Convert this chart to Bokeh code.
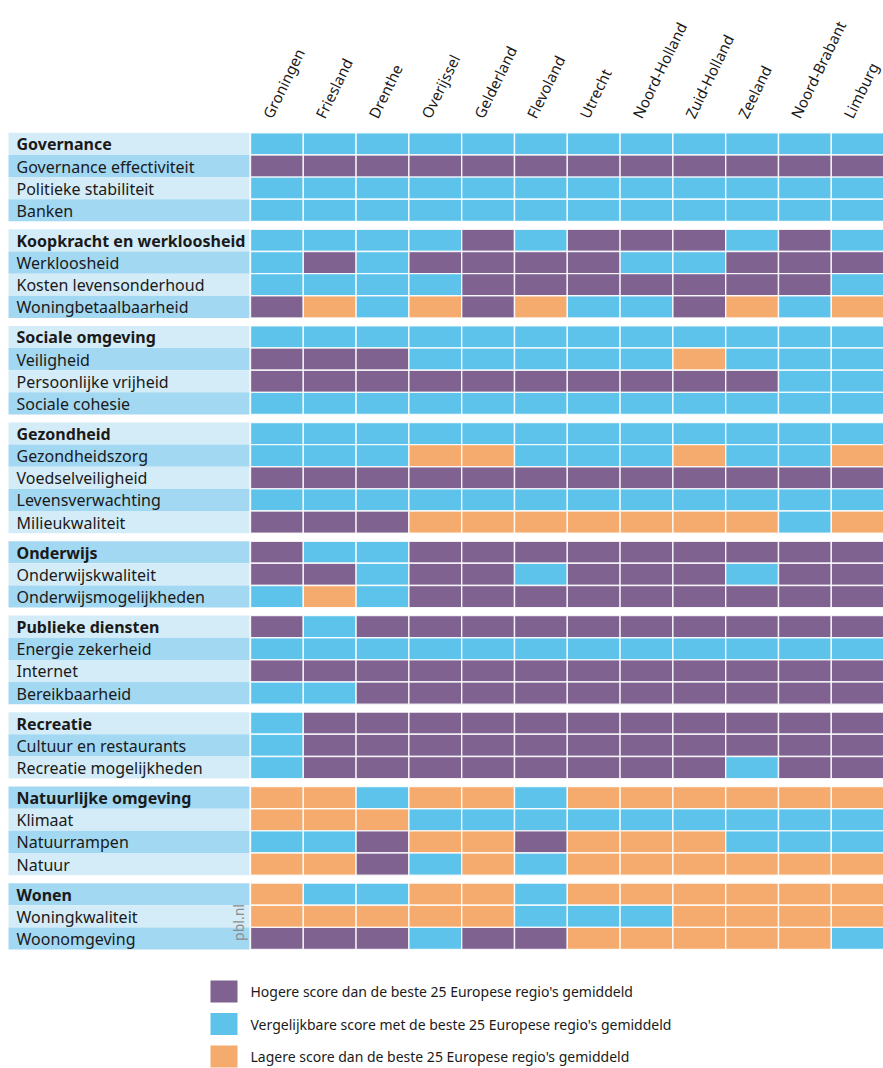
import math
from bokeh.plotting import figure
from bokeh.models import Range1d, ColumnDataSource
from bokeh.embed import file_html
from bokeh.resources import INLINE
from bokeh.core.properties import value

# ---------------- data ----------------
regions = ["Groningen", "Friesland", "Drenthe", "Overijssel", "Gelderland", "Flevoland",
           "Utrecht", "Noord-Holland", "Zuid-Holland", "Zeeland", "Noord-Brabant", "Limburg"]

groups = ["Governance", "Koopkracht en werkloosheid", "Sociale omgeving", "Gezondheid",
          "Onderwijs", "Publieke diensten", "Recreatie", "Natuurlijke omgeving", "Wonen"]

group_items = [
    ["Governance effectiviteit", "Politieke stabiliteit", "Banken"],
    ["Werkloosheid", "Kosten levensonderhoud", "Woningbetaalbaarheid"],
    ["Veiligheid", "Persoonlijke vrijheid", "Sociale cohesie"],
    ["Gezondheidszorg", "Voedselveiligheid", "Levensverwachting", "Milieukwaliteit"],
    ["Onderwijskwaliteit", "Onderwijsmogelijkheden"],
    ["Energie zekerheid", "Internet", "Bereikbaarheid"],
    ["Cultuur en restaurants", "Recreatie mogelijkheden"],
    ["Klimaat", "Natuurrampen", "Natuur"],
    ["Woningkwaliteit", "Woonomgeving"],
]

# H = hoger, V = vergelijkbaar, L = lager  (one string per row, group header first)
status = [
    "VVVVVVVVVVVV", "HHHHHHHHHHHH", "VVVVVVVVVVVV", "VVVVVVVVVVVV",
    "VVVVHVHHHVHV", "VHVHHHHVVHHH", "VVVVHHHHHHHV", "HLVLHLVVHLVL",
    "VVVVVVVVVVVV", "HHHVVVVVLVVV", "HHHHHHHHHHVV", "VVVVVVVVVVVV",
    "VVVVVVVVVVVV", "VVVLLVVVLVVL", "HHHHHHHHHHHH", "VVVVVVVVVVVV", "HHHLLLLLLLVL",
    "HVVHHHHHHHHH", "HHVHHVHHHVHH", "VLVHHHHHHHHH",
    "HVHHHHHHHHHH", "VVVVVVVVVVVV", "HHHHHHHHHHHH", "VVHHHHHHHHHH",
    "VHHHHHHHHHHH", "VHHHHHHHHHHH", "VHHHHHHHHVHH",
    "LLVLLVLLLLLL", "LLLVVVVVVVVV", "VVHLLHLLLVVV", "LLHVLVLLLLLL",
    "LVVLLVLLLLLL", "LLLLLVVVLLLL", "HHHVHHLLLLLV",
]

codes = ["H", "V", "L"]
legend_labels = ["Hogere score dan de beste 25 Europese regio's gemiddeld",
                 "Vergelijkbare score met de beste 25 Europese regio's gemiddeld",
                 "Lagere score dan de beste 25 Europese regio's gemiddeld"]

# ---------------- style ----------------
colors = {"H": "#7f6290", "V": "#5ec3eb", "L": "#f5ab6e"}
bg_light, bg_mid = "#d4ecf8", "#a3d8f2"
FONT = "Noto Sans"
TXT = "#1a1a1a"

W, H = 883, 1068
label_x0, label_x1 = 8, 249
cell_x0, cw = 250, 52.8
y0, rh, gap = 132.3, 22.14, 8.0

p = figure(width=W, height=H, x_range=Range1d(0, W), y_range=Range1d(H, 0),
           output_backend="svg", toolbar_location=None, min_border=0)
p.axis.visible = False
p.grid.visible = False
p.outline_line_color = None
p.background_fill_color = "white"

# build rows
row_labels, row_bold, row_top = [], [], []
y = y0
for gi, g in enumerate(groups):
    if gi > 0:
        y += gap
    for j, lab in enumerate([g] + group_items[gi]):
        row_labels.append(lab)
        row_bold.append(j == 0)
        row_top.append(y)
        y += rh

n = len(row_labels)
# label backgrounds
bg = ColumnDataSource(dict(
    left=[label_x0] * n, right=[label_x1] * n,
    top=row_top, bottom=[t + rh for t in row_top],
    color=[bg_light if i % 2 == 0 else bg_mid for i in range(n)]))
p.quad(left="left", right="right", top="top", bottom="bottom", fill_color="color",
       line_color=None, source=bg)

# label texts
for bold in (False, True):
    idx = [i for i in range(n) if row_bold[i] == bold]
    src = ColumnDataSource(dict(x=[16] * len(idx), y=[row_top[i] + rh / 2 + 0.5 for i in idx],
                                t=[row_labels[i] for i in idx]))
    p.text(x="x", y="y", text="t", source=src, text_font=value(FONT),
           text_font_size="16px", text_color=TXT, text_baseline="middle",
           text_align="left", text_font_style="bold" if bold else "normal")

# cells
L, R, T, B, C = [], [], [], [], []
for i in range(n):
    for j, ch in enumerate(status[i]):
        L.append(cell_x0 + j * cw)
        R.append(cell_x0 + (j + 1) * cw)
        T.append(row_top[i])
        B.append(row_top[i] + rh)
        C.append(colors[ch])
p.quad(left=L, right=R, top=T, bottom=B, fill_color=C, line_color="white",
       line_width=1.4, line_alpha=0.85)

# column headers
hx = [cell_x0 + (j + 0.5) * cw - 1 for j in range(len(regions))]
p.text(x=hx, y=[121] * len(regions), text=regions, angle=math.radians(64),
       text_font=value(FONT), text_font_size="15px", text_color=TXT,
       text_align="left", text_baseline="bottom")

# pbl.nl
p.text(x=[238], y=[922], text=["pbl.nl"], angle=math.pi / 2, text_font=value(FONT),
       text_font_size="14px", text_color="#8c8c8c", text_align="center",
       text_baseline="middle")

# legend
ly = [991, 1023.5, 1056]
p.quad(left=[210] * 3, right=[237] * 3, top=[v - 11 for v in ly], bottom=[v + 11 for v in ly],
       fill_color=[colors[c] for c in codes], line_color=None)
p.text(x=[250] * 3, y=ly, text=legend_labels, text_font=value(FONT),
       text_font_size="14px", text_color=TXT, text_baseline="middle", text_align="left")

open("out.html", "w").write(file_html(p, INLINE))
